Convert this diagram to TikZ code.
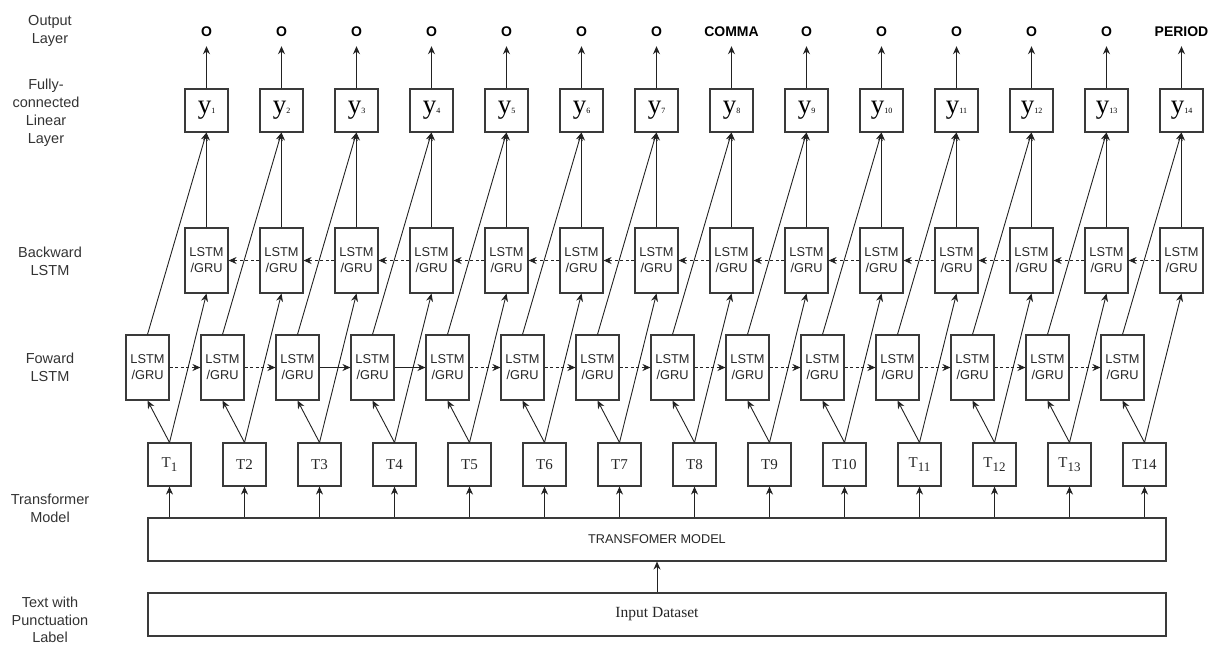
\documentclass[tikz,border=0pt]{standalone}
\usepackage{fontspec}
\setmainfont{Liberation Serif}
\setsansfont{Liberation Sans}
\usetikzlibrary{arrows.meta}
\newcommand\tsubx[1]{\raisebox{-4pt}{\fontsize{13}{13}\selectfont #1}}
\newcommand\ysubx[1]{{\fontsize{8}{8}\selectfont #1}}
\definecolor{ln}{HTML}{222222}
\definecolor{bx}{HTML}{3A3A3A}
\begin{document}
\begin{tikzpicture}[x=1pt,y=-1pt,
  box/.style={draw=bx, line width=1.1pt, inner sep=0pt},
  ybox/.style={box, minimum width=43pt, minimum height=43pt},
  lbox/.style={box, minimum width=43pt, minimum height=65pt, align=center,
    font=\sffamily\fontsize{12.8}{16}\selectfont, text=black!85},
  tbox/.style={box, minimum width=43pt, minimum height=43pt,
    font=\fontsize{15}{15}\selectfont, text=black!85},
  wide/.style={box, minimum width=1018pt, minimum height=43pt},
  arr/.style={-{Stealth[length=8pt,width=7pt]}, line width=0.9pt, draw=ln},
  darr/.style={arr, dash pattern=on 3pt off 2.5pt},
  side/.style={font=\sffamily\fontsize{14.5}{18}\selectfont, align=center, text=black!80},
  outl/.style={font=\sffamily\bfseries\fontsize{14}{14}\selectfont, inner xsep=1pt,
    inner ysep=10pt, text height=10pt, text depth=0pt},
]
\useasboundingbox (0,0) rectangle (1208,646);

% side labels
\node[side] (lo) at (50,31) {Output\\Layer};
\node[side] (lf) at (46,113) {Fully-\\connected\\Linear\\Layer};
\node[side] (lb) at (50,261) {Backward\\LSTM};
\node[side] (lw) at (50,367) {Foward\\LSTM};
\node[side] (lt) at (50,508) {Transformer\\Model};
\node[side, inner sep=0.5pt, font=\sffamily\fontsize{14.5}{17.5}\selectfont] (lx) at (50,620) {Text with\\Punctuation\\Label};

% columns
\foreach \i/\olab/\tlab in {1/O/T\tsubx{1},2/O/T2,3/O/T3,4/O/T4,5/O/T5,6/O/T6,7/O/T7,
  8/COMMA/T8,9/O/T9,10/O/T10,11/O/T\tsubx{11},12/O/T\tsubx{12},13/O/T\tsubx{13},14/PERIOD/T14}{
  \pgfmathsetmacro\xy{206.5+75*(\i-1)}
  \pgfmathsetmacro\xf{147.5+75*(\i-1)}
  \pgfmathsetmacro\xt{169.5+75*(\i-1)}
  \node[outl] (o\i) at (\xy,31) {\olab};
  \node[ybox] (y\i) at (\xy,110.5) {\fontsize{27}{27}\selectfont y\ysubx{\i}};
  \node[lbox] (b\i) at (\xy,260.5) {LSTM\\/GRU};
  \node[lbox] (f\i) at (\xf,367.5) {LSTM\\/GRU};
  \node[tbox] (t\i) at (\xt,464.5) {\tlab};
}

\node[wide, font=\sffamily\fontsize{12.7}{14}\selectfont, text=black!85] (trans) at (657,539.5) {TRANSFOMER MODEL};
\node[wide, font=\fontsize{15.5}{16}\selectfont, text=black!85] (inp) at (657,614.5) {Input Dataset};

\draw[arr] (inp.north) -- (trans.south);

\foreach \i in {1,...,14}{
  \draw[arr] (y\i.north) -- (o\i.south);
  \draw[arr] (b\i.north) -- (y\i.south);
  \draw[arr] (f\i.north) -- (y\i.south);
  \draw[arr] (t\i.north) -- (f\i.south);
  \draw[arr] (t\i.north) -- (b\i.south);
  \draw[arr] (t\i.south |- trans.north) -- (t\i.south);
}

% forward recurrences
\foreach \i/\j in {1/2,2/3,5/6,6/7,7/8,8/9,9/10,10/11,11/12,12/13,13/14}{
  \draw[darr] (f\i.east) -- (f\j.west);
}
\draw[arr] (f3.east) -- (f4.west);
\draw[arr] (f4.east) -- (f5.west);

% backward recurrences
\foreach \i/\j in {2/1,3/2,4/3,5/4,6/5,7/6,8/7,9/8,10/9,11/10,12/11,13/12,14/13}{
  \draw[darr] (b\i.west) -- (b\j.east);
}
\end{tikzpicture}
\end{document}
